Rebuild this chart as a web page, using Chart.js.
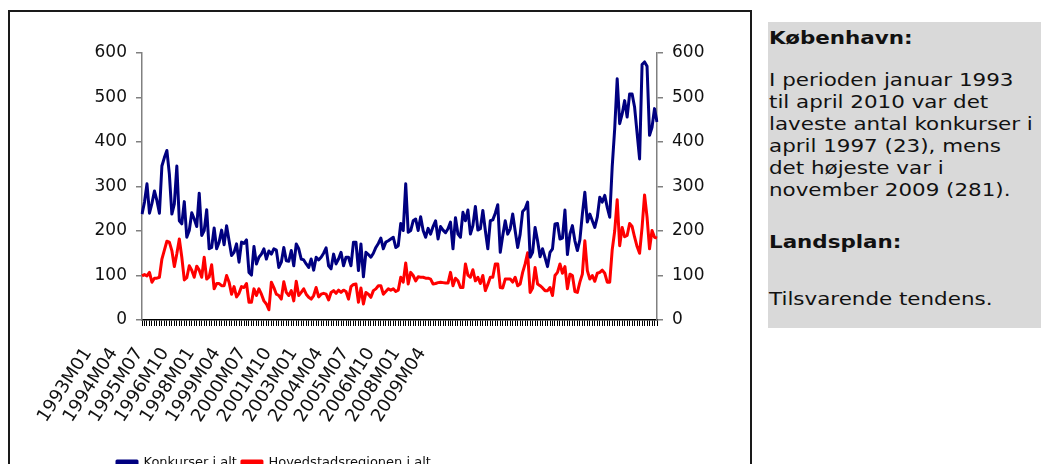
<!DOCTYPE html>
<html>
<head>
<meta charset="utf-8">
<script src="https://cdn.jsdelivr.net/npm/chart.js@4.4.1/dist/chart.umd.min.js"></script>
<style>
body { margin:0; width:1044px; height:464px; overflow:hidden; background:#fff; font-family: Verdana, "DejaVu Sans", sans-serif; }
#box { position:absolute; left:8px; top:10px; width:744px; height:480px; border:2px solid #1a1a1a; box-sizing:border-box; }
#wrap { position:absolute; left:10px; top:12px; }
#note { position:absolute; left:768px; top:22px; width:273px; height:306px; background:#d9d9d9; color:#111; }
#note div { position:absolute; left:1px; white-space:nowrap; font-size:18px; line-height:22px; transform:scaleX(1.19); transform-origin:0 0; }
</style>
</head>
<body>
<div id="box"></div>
<div id="wrap"><canvas id="chart" width="739" height="467"></canvas></div>
<div id="note">
  <div style="top:5px"><b>København:</b></div>
  <div style="top:47px">I perioden januar 1993<br>til april 2010 var det<br>laveste antal konkurser i<br>april 1997 (23), mens<br>det højeste var i<br>november 2009 (281).</div>
  <div style="top:209px"><b>Landsplan:</b></div>
  <div style="top:266px">Tilsvarende tendens.</div>
</div>
<script>
// monthly values 1993M01 - 2010M04
var konkurser = [
  238, 265, 306, 240, 262, 290, 268, 240, 346, 365, 381, 328,
  238, 261, 346, 223, 216, 266, 186, 201, 241, 227, 210, 285,
  190, 201, 248, 160, 163, 207, 160, 175, 202, 169, 212, 178,
  145, 152, 171, 130, 175, 172, 180, 107, 101, 165, 126, 141,
  148, 160, 137, 155, 148, 160, 157, 118, 130, 163, 133, 132,
  156, 122, 171, 160, 137, 135, 126, 118, 137, 112, 141, 135,
  141, 150, 162, 122, 115, 148, 126, 137, 152, 122, 141, 141,
  122, 175, 175, 111, 171, 97, 152, 147, 141, 150, 163, 172,
  184, 160, 175, 178, 182, 186, 163, 167, 217, 201, 306, 197,
  201, 223, 227, 201, 232, 201, 186, 206, 193, 210, 223, 182,
  210, 202, 196, 205, 220, 160, 230, 193, 186, 242, 223, 247,
  193, 212, 255, 202, 205, 246, 201, 160, 223, 225, 240, 259,
  152, 190, 223, 193, 205, 238, 200, 163, 193, 244, 250, 265,
  141, 152, 208, 178, 142, 160, 140, 120, 152, 160, 216, 217,
  182, 184, 247, 147, 193, 212, 178, 156, 180, 238, 287, 220,
  238, 223, 208, 231, 276, 265, 280, 253, 231, 345, 430, 542,
  441, 463, 493, 456, 508, 508, 478, 420, 362, 574, 580, 570,
  415, 433, 475, 445
];
var hovedstad = [
  99, 102, 99, 107, 85, 94, 94, 96, 137, 157, 177, 175,
  156, 120, 149, 182, 141, 90, 95, 122, 112, 96, 121, 112,
  96, 141, 92, 97, 124, 70, 82, 82, 77, 77, 100, 85,
  58, 75, 52, 60, 75, 73, 82, 40, 40, 70, 55, 70,
  58, 43, 36, 23, 85, 73, 58, 55, 47, 86, 62, 55,
  66, 43, 87, 55, 62, 70, 58, 51, 47, 55, 73, 52,
  58, 60, 58, 45, 62, 66, 60, 67, 62, 67, 64, 47,
  75, 80, 81, 40, 72, 36, 62, 58, 51, 66, 70, 77,
  77, 58, 64, 70, 67, 70, 64, 67, 96, 85, 128, 81,
  107, 100, 88, 97, 96, 96, 94, 94, 92, 81, 82, 84,
  85, 84, 83, 83, 107, 77, 94, 88, 73, 73, 126, 101,
  96, 113, 88, 96, 82, 100, 66, 80, 96, 96, 126, 126,
  73, 72, 92, 92, 92, 85, 96, 77, 81, 107, 126, 151,
  62, 72, 118, 81, 77, 72, 66, 66, 73, 55, 100, 107,
  126, 105, 120, 70, 103, 100, 64, 62, 85, 103, 178, 111,
  92, 100, 87, 105, 107, 112, 105, 85, 85, 158, 200, 270,
  167, 208, 187, 190, 217, 210, 186, 165, 150, 208, 281, 231,
  160, 201, 186, 184
];
var xTickLabels = ['1993M01', '1994M04', '1995M07', '1996M10', '1998M01', '1999M04', '2000M07',
  '2001M10', '2003M01', '2004M04', '2005M07', '2006M10', '2008M01', '2009M04'];
var yTicks = [0, 100, 200, 300, 400, 500, 600];

var months = [];
for (var i = 0; i < konkurser.length; i++) {
  var y = 1993 + Math.floor(i / 12), m = i % 12 + 1;
  months.push(y + 'M' + (m < 10 ? '0' + m : m));
}

// the rotated labels sit on their own axis, packed tighter than the months (as in the original)
var labStart = 78, labStep = 25.7;   // canvas px of first label anchor, px between labels
var areaLeft = 132, areaRight = 647, areaBottom = 308;

Chart.defaults.font.family = 'Verdana, "DejaVu Sans", sans-serif';
Chart.defaults.font.size = 17;
Chart.defaults.color = '#111';

// move the legend row to where the original has it
var legendShift = {
  id: 'legendShift',
  afterLayout: function(chart) { chart.legend.left = 102; }
};

var chartCanv = document.getElementById('chart');
var plot = new Chart(chartCanv, {
  type: 'line',
  data: {
    labels: months,
    datasets: [{
      label: 'Konkurser i alt',
      borderColor: '#000080',
      backgroundColor: '#000080',
      data: konkurser,
      borderWidth: 3
    },
    {
      label: 'Hovedstadsregionen i alt',
      borderColor: '#ff0000',
      backgroundColor: '#ff0000',
      data: hovedstad,
      borderWidth: 3
    }]
  },
  plugins: [legendShift],
  options: {
    responsive: false,
    animation: false,
    elements: { point: { radius: 0 }, line: { tension: 0, borderJoinStyle: 'round' } },
    layout: { padding: { left: 0, top: 41, right: 0, bottom: 0 } },
    plugins: {
      legend: {
        position: 'bottom', align: 'start',
        labels: { boxWidth: 20, boxHeight: 3, padding: 5, color: '#111', font: { size: 13 } }
      },
      tooltip: { enabled: false }
    },
    scales: {
      x: {
        type: 'category', offset: false,
        ticks: { display: false },
        grid: { drawOnChartArea: false, tickLength: 6, color: '#000', lineWidth: 1 },
        border: { color: '#000', width: 1.5 },
        afterFit: function(s) { s.height = 6; s.paddingLeft = 0; s.paddingRight = 0; }
      },
      xl: {
        type: 'linear', position: 'bottom',
        min: (areaLeft - labStart) / labStep,
        max: (areaRight - labStart) / labStep,
        grid: { display: false, drawTicks: false },
        border: { display: false },
        ticks: {
          autoSkip: false, minRotation: 57, maxRotation: 57, padding: 18,
          font: { size: 18 },
          callback: function(v) { return xTickLabels[v]; }
        },
        afterBuildTicks: function(s) { s.ticks = xTickLabels.map(function(t, i) { return { value: i }; }); },
        afterFit: function(s) {
          var lh = s.chart.legend ? s.chart.legend.height : 23;
          s.height = s.chart.height - areaBottom - 6 - lh;
          s.paddingLeft = 0; s.paddingRight = 0;
        }
      },
      y: {
        position: 'left', min: 0, max: 600,
        afterBuildTicks: function(s) { s.ticks = yTicks.map(function(v) { return { value: v }; }); },
        ticks: { padding: 9 },
        grid: { drawOnChartArea: false, tickLength: 6, color: '#808080', lineWidth: 1.5 },
        border: { color: '#808080', width: 1.5 },
        afterFit: function(s) { s.width = areaLeft; }
      },
      y2: {
        position: 'right', min: 0, max: 600,
        afterBuildTicks: function(s) { s.ticks = yTicks.map(function(v) { return { value: v }; }); },
        ticks: { padding: 9 },
        grid: { drawOnChartArea: false, tickLength: 6, color: '#808080', lineWidth: 1.5 },
        border: { color: '#808080', width: 1.5 },
        afterFit: function(s) { s.width = 739 - areaRight; }
      }
    }
  }
});
</script>
</body>
</html>
